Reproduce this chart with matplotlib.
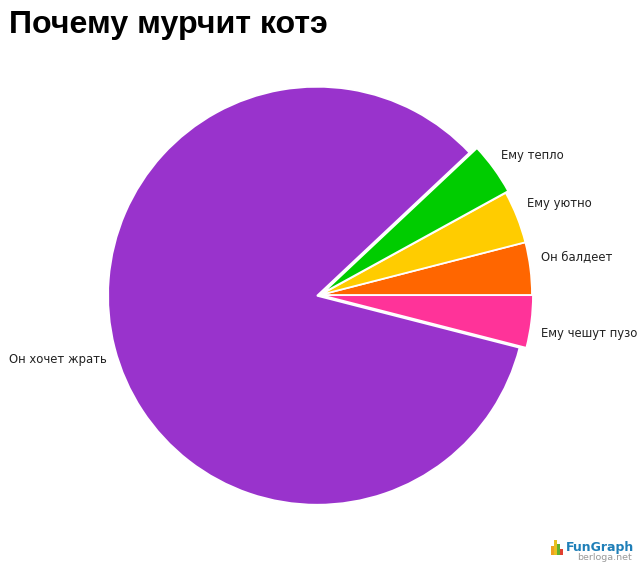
import matplotlib
matplotlib.use('Agg')
import matplotlib.pyplot as plt

title = 'Почему мурчит котэ'
labels = ['Ему чешут пузо', 'Он балдеет', 'Ему уютно', 'Ему тепло', 'Он хочет жрать']
values = [4, 4, 4, 4, 84]
colors = ['#FF3399', '#FF6600', '#FFCC00', '#00CC00', '#9933CC']
explode = [1, 0, 0, 3, 3]
label_pos = [(541, 333), (541, 257), (527, 203), (501, 155), (9, 360)]
logo_heights = [9, 15, 11, 6]
logo_colors = ['#F0A020', '#E8C020', '#60B030', '#E04030']

fig = plt.figure(figsize=(6.4, 5.65), dpi=100)
ax = fig.add_axes([0, 0, 1, 1])

# y axis is flipped, so draw the pie clockwise to keep the slices where they belong
wedges, _ = ax.pie(values, colors=colors, explode=explode, startangle=14.4, counterclock=False,
                   center=(320, 295), radius=212, frame=True,
                   wedgeprops={'edgecolor': 'white', 'linewidth': 1.3})
wedges[-1].set_radius(209)  # big slice is a little smaller than the others
ax.set_xlim(0, 640)
ax.set_ylim(565, 0)
ax.set_aspect('equal')
ax.axis('off')

fig.text(9 / 640, 1 - 25 / 565, title, fontsize=23.1, fontweight='bold',
         family='Liberation Sans', color='black', va='center', ha='left')

for lab, (x, y) in zip(labels, label_pos):
    ax.text(x, y, lab, fontsize=8.4, family='DejaVu Sans', color='#222222', va='center', ha='left')

# FunGraph logo in the corner
ax.bar([551, 554, 557, 560], logo_heights, width=3, bottom=[555 - h for h in logo_heights],
       color=logo_colors, align='edge')
ax.text(566, 548, 'FunGraph', fontsize=9, fontweight='bold', family='DejaVu Sans',
        color='#1F7FB8', va='center', ha='left')
ax.text(577, 557, 'berloga.net', fontsize=6.8, family='DejaVu Sans', color='#999999',
        va='center', ha='left')

fig.savefig('out.png', dpi=100)
